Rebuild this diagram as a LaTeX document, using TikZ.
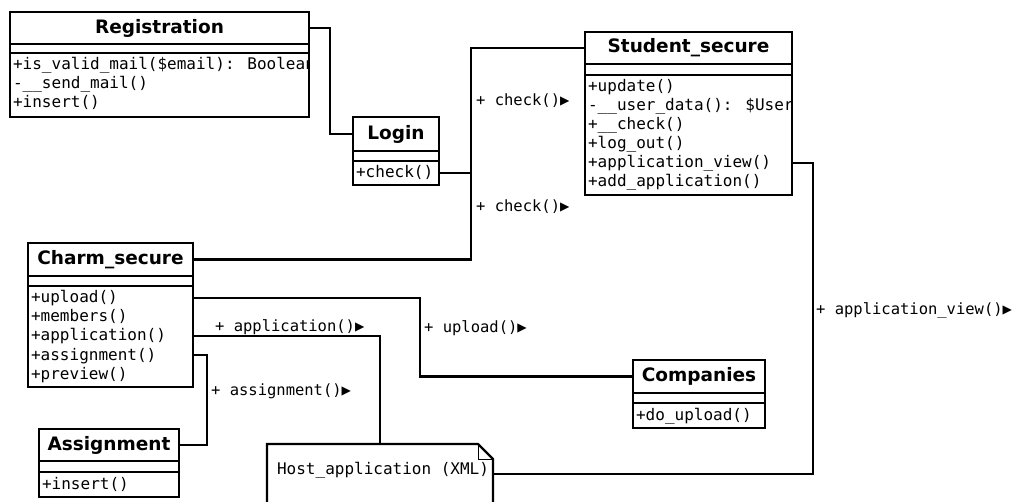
\documentclass[tikz,border=0pt]{standalone}
\usepackage{fontspec}
\usetikzlibrary{calc}
\newfontfamily\umlsans{DejaVu Sans}
\newfontfamily\umlmono{DejaVu Sans Mono}
\begin{document}
\begin{tikzpicture}[x=1pt,y=-1pt,
  line width=2.2pt,
  ttl/.style={draw, anchor=north west, inner sep=0pt, outer sep=0pt,
    font=\umlsans\bfseries\fontsize{18.5}{22}\selectfont},
  cmp/.style={draw, anchor=north west, inner sep=0pt, outer sep=0pt},
  row/.style={anchor=west, inner sep=0pt, text height=13pt, text depth=3pt,
    font=\umlmono\fontsize{16}{19}\selectfont},
  lbl/.style={anchor=west, inner sep=0pt, font=\umlmono\fontsize{15.5}{18}\selectfont},
  wire/.style={line width=2.2pt}
]
\useasboundingbox (0,0) rectangle (1014,502);
\clip (0,0) rectangle (1014,502);

% Registration
\node[ttl, minimum width=299, minimum height=32] (reg-t) at (10,12) {Registration};
\node[cmp, minimum width=299, minimum height=9] (reg-e) at (reg-t.south west) {};
\node[cmp, minimum width=299, minimum height=64] (reg-m) at (reg-e.south west) {};
\begin{scope}
  \clip (reg-m.north west) rectangle (reg-m.south east);
  \node[row] (reg-r1) at (12,65) {+is\_valid\_mail(\$email): Boolean};
  \node[row] (reg-r2) at (12,84) {-\_\_send\_mail()};
  \node[row] (reg-r3) at (12,103) {+insert()};
\end{scope}
\draw (reg-m.north west) rectangle (reg-m.south east);

% Login
\node[ttl, minimum width=86, minimum height=34] (login-t) at (353,117) {Login};
\node[cmp, minimum width=86, minimum height=10] (login-e) at (login-t.south west) {};
\node[cmp, minimum width=86, minimum height=24] (login-m) at (login-e.south west) {};
\node[row] (login-r1) at (355,173) {+check()};

% Student_secure
\node[ttl, minimum width=207, minimum height=32] (stud-t) at (585,32) {Student\_secure};
\node[cmp, minimum width=207, minimum height=11] (stud-e) at (stud-t.south west) {};
\node[cmp, minimum width=207, minimum height=120] (stud-m) at (stud-e.south west) {};
\node[row] (stud-r1) at (587,87) {+update()};
\node[row] (stud-r2) at (587,106) {-\_\_user\_data(): \$User};
\node[row] (stud-r3) at (587,125) {+\_\_check()};
\node[row] (stud-r4) at (587,144) {+log\_out()};
\node[row] (stud-r5) at (587,163) {+application\_view()};
\node[row] (stud-r6) at (587,182) {+add\_application()};

% Charm_secure
\node[ttl, minimum width=165, minimum height=33] (charm-t) at (28,243) {Charm\_secure};
\node[cmp, minimum width=165, minimum height=10] (charm-e) at (charm-t.south west) {};
\node[cmp, minimum width=165, minimum height=101] (charm-m) at (charm-e.south west) {};
\node[row] (charm-r1) at (30,298) {+upload()};
\node[row] (charm-r2) at (30,317) {+members()};
\node[row] (charm-r3) at (30,336) {+application()};
\node[row] (charm-r4) at (30,355) {+assignment()};
\node[row] (charm-r5) at (30,374) {+preview()};

% Companies
\node[ttl, minimum width=132, minimum height=33] (comp-t) at (633,360) {Companies};
\node[cmp, minimum width=132, minimum height=10] (comp-e) at (comp-t.south west) {};
\node[cmp, minimum width=132, minimum height=25] (comp-m) at (comp-e.south west) {};
\node[row] (comp-r1) at (635,415) {+do\_upload()};

% Assignment
\node[ttl, minimum width=140, minimum height=32] (asg-t) at (39,429) {Assignment};
\node[cmp, minimum width=140, minimum height=11] (asg-e) at (asg-t.south west) {};
\node[cmp, minimum width=140, minimum height=25] (asg-m) at (asg-e.south west) {};
\node[row] (asg-r1) at (41,484) {+insert()};

% Host_application note with folded corner
\node[anchor=north west, inner sep=0pt, outer sep=0pt, minimum width=226, minimum height=60] (host) at (267,444) {};
\draw (host.south west) -- (host.north west) -- ($(host.north east)+(-15,0)$)
  -- ($(host.north east)+(0,15)$) -- (host.south east);
\draw[line width=1pt] ($(host.north east)+(-15,0)$) |- ($(host.north east)+(0,15)$);
\node[row] (host-txt) at (276,469) {Host\_application (XML)};

% Connectors
\coordinate (hub) at ($(login-m.east |- login-r1)+(32,0)$);
\draw[wire] (reg-t.east) -- ++(21,0) |- (login-t.west);
\draw[wire] (login-m.east |- login-r1) -- (hub);
\draw[wire] (stud-t.west) -| (hub) |- (charm-t.east);
\draw[wire] (charm-m.east |- charm-r1) -- ++(227,0) |- (comp-t.west);
\draw[wire] (charm-m.east |- charm-r3) -| (host.north);
\draw[wire] (charm-m.east |- charm-r4) -- ++(14,0) |- (asg-t.east);
\draw[wire] (stud-m.east |- stud-r5) -- ++(21,0) |- (host.east);

% Message labels
\node[lbl] (lbl-check1) at (475,101) {+ check()▶};
\node[lbl] (lbl-check2) at (475,207) {+ check()▶};
\node[lbl] (lbl-app) at (214,327) {+ application()▶};
\node[lbl] (lbl-upl) at (423,328) {+ upload()▶};
\node[lbl] (lbl-asg) at (210,391) {+ assignment()▶};
\node[lbl] (lbl-view) at (815,310) {+ application\_view()▶};
\end{tikzpicture}
\end{document}
